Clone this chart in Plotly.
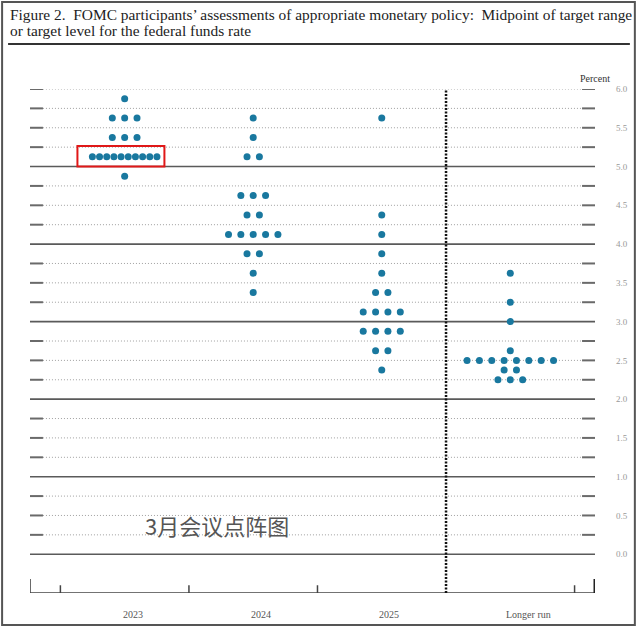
import plotly.graph_objects as go

# ---------------- data ----------------
categories = ["2023", "2024", "2025", "Longer run"]

rates_2023 = [5.875, 5.625, 5.375, 5.125, 4.875]
counts_2023 = [1, 3, 3, 10, 1]

rates_2024 = [5.625, 5.375, 5.125, 4.625, 4.375, 4.125, 3.875, 3.625, 3.375]
counts_2024 = [1, 1, 2, 3, 2, 5, 2, 1, 1]

rates_2025 = [5.625, 4.375, 4.125, 3.875, 3.625, 3.375, 3.125, 2.875, 2.625, 2.375]
counts_2025 = [1, 1, 1, 1, 1, 2, 4, 4, 2, 1]

rates_lr = [3.625, 3.25, 3.0, 2.625, 2.5, 2.375, 2.25]
counts_lr = [1, 1, 1, 1, 8, 2, 3]

y_ticks = [0.0, 0.5, 1.0, 1.5, 2.0, 2.5, 3.0, 3.5, 4.0, 4.5, 5.0, 5.5, 6.0]

title_line1 = ("Figure 2.  FOMC participants\u2019 assessments of appropriate monetary policy:  "
               "Midpoint of target range")
title_line2 = "or target level for the federal funds rate"
note_text = "3月会议点阵图"

series = [(rates_2023, counts_2023), (rates_2024, counts_2024),
          (rates_2025, counts_2025), (rates_lr, counts_lr)]

# ---------------- geometry ----------------
W, H = 640, 627
ML, MR, MT, MB = 30, 43, 89, 34
PW, PH = W - ML - MR, H - MT - MB
CAT_PX = 129.0          # pixels per category
X0 = (ML - 125) / CAT_PX
X1 = X0 + PW / CAT_PX
Y0, Y1 = -0.5, 6.0

def px_x(px):   # pixel -> paper x
    return (px - ML) / PW

def px_y(py):   # pixel -> paper y
    return (H - MB - py) / PH

DOT_COLOR = "#19789f"
SPACING = 12.4 / CAT_PX
TIGHT = 7.2 / CAT_PX
SERIF = "Liberation Serif, DejaVu Serif, serif"

fig = go.Figure()

xs, ys = [], []
red_box = None
for ci, (rates, counts) in enumerate(series):
    for r, n in zip(rates, counts):
        sp = TIGHT if n >= 10 else SPACING
        row = [ci + (k - (n - 1) / 2) * sp for k in range(n)]
        xs += row
        ys += [r] * n
        if ci == 0 and n == max(counts):
            red_box = (min(row) - 15 / CAT_PX, max(row) + 7.5 / CAT_PX, r - 0.125, r + 0.14)

fig.add_trace(go.Scatter(x=xs, y=ys, mode="markers",
                         marker=dict(size=7, color=DOT_COLOR, line=dict(width=0)),
                         hoverinfo="skip", showlegend=False, cliponaxis=False))

shapes = []
# horizontal grid lines every 0.25
stub = 13 / CAT_PX
n_lines = int(round((Y1 - 0) / 0.25)) + 1
for j in range(n_lines):
    v = j * 0.25
    if abs(v - round(v)) < 1e-9 and v < Y1 - 1e-9:
        shapes.append(dict(type="line", xref="x", yref="y", x0=X0, x1=X1, y0=v, y1=v,
                           line=dict(color="#5a5a5a", width=1.6), layer="below"))
    else:
        shapes.append(dict(type="line", xref="x", yref="y", x0=X0 + stub, x1=X1 - stub, y0=v, y1=v,
                           line=dict(color="#a0a0a0", width=1, dash="1px,2px"), layer="below"))
        shapes.append(dict(type="line", xref="x", yref="y", x0=X0, x1=X0 + stub, y0=v, y1=v,
                           line=dict(color="#6a6a6a", width=2), layer="below"))
        shapes.append(dict(type="line", xref="x", yref="y", x0=X1 - stub, x1=X1, y0=v, y1=v,
                           line=dict(color="#6a6a6a", width=2), layer="below"))

# bottom axis
shapes.append(dict(type="line", xref="x", yref="y", x0=X0, x1=X1, y0=Y0, y1=Y0,
                   line=dict(color="#444", width=1.6)))
shapes.append(dict(type="line", xref="x", yref="y", x0=X0, x1=X0, y0=Y0, y1=Y0 + 0.18,
                   line=dict(color="#444", width=1.6)))
shapes.append(dict(type="line", xref="x", yref="y", x0=X1, x1=X1, y0=Y0, y1=Y0 + 0.18,
                   line=dict(color="#222", width=3)))
for b in range(len(categories) + 1):
    xb = b - 0.5
    if b == 3:
        continue
    shapes.append(dict(type="line", xref="x", yref="y", x0=xb, x1=xb, y0=Y0, y1=Y0 + 0.1,
                       line=dict(color="#444", width=1.5)))
# vertical dashed separator
shapes.append(dict(type="line", xref="x", yref="y", x0=2.5, x1=2.5, y0=Y0, y1=Y1,
                   line=dict(color="#111", width=2.5, dash="2px,1.5px")))

# red highlight box
if red_box:
    shapes.append(dict(type="rect", xref="x", yref="y", x0=red_box[0], x1=red_box[1],
                       y0=red_box[2], y1=red_box[3], line=dict(color="#e01818", width=2),
                       fillcolor="rgba(0,0,0,0)"))

# outer frame and title rule
shapes.append(dict(type="rect", xref="paper", yref="paper", x0=px_x(2), x1=px_x(637),
                   y0=px_y(625), y1=px_y(2), line=dict(color="#555", width=2)))
shapes.append(dict(type="line", xref="paper", yref="paper", x0=px_x(8), x1=px_x(632),
                   y0=px_y(44), y1=px_y(44), line=dict(color="#333", width=2)))

annotations = []
annotations.append(dict(text=title_line1, xref="paper", yref="paper", x=px_x(8), y=px_y(14),
                        xanchor="left", yanchor="middle", align="left", showarrow=False,
                        font=dict(family=SERIF, size=15.4, color="#222")))
annotations.append(dict(text=title_line2, xref="paper", yref="paper", x=px_x(8), y=px_y(31),
                        xanchor="left", yanchor="middle", align="left", showarrow=False,
                        font=dict(family=SERIF, size=15.4, color="#222")))
annotations.append(dict(text="Percent", xref="paper", yref="paper", x=px_x(597), y=px_y(78),
                        xanchor="center", yanchor="middle", showarrow=False,
                        font=dict(family=SERIF, size=10, color="#333")))
shifts = [8, 8, 7, 18]
for i, c in enumerate(categories):
    annotations.append(dict(text=c, xref="x", yref="paper", x=i, y=px_y(614), xshift=shifts[i],
                            xanchor="center", yanchor="middle", showarrow=False,
                            font=dict(family=SERIF, size=10, color="#555")))
annotations.append(dict(text=note_text, xref="paper", yref="paper", x=px_x(218), y=px_y(525),
                        xanchor="center", yanchor="middle", showarrow=False,
                        font=dict(family="Noto Sans CJK SC", size=22, color="#555")))

fig.update_layout(
    width=W, height=H, autosize=False,
    margin=dict(l=ML, r=MR, t=MT, b=MB, pad=0),
    paper_bgcolor="white", plot_bgcolor="white",
    xaxis=dict(range=[X0, X1], showgrid=False, zeroline=False, showticklabels=False,
               ticks="", showline=False, fixedrange=True),
    yaxis=dict(range=[Y0, Y1], side="right", tickvals=y_ticks, tickformat=".1f",
               showgrid=False, zeroline=False, ticks="", showline=False,
               ticklabelstandoff=20,
               tickfont=dict(family=SERIF, size=9, color="#999"),
               fixedrange=True),
    shapes=shapes, annotations=annotations, showlegend=False,
)

fig.write_html("out.html", config={"displayModeBar": False},
               post_script="document.body.style.margin='0';document.body.style.overflow='hidden';")
